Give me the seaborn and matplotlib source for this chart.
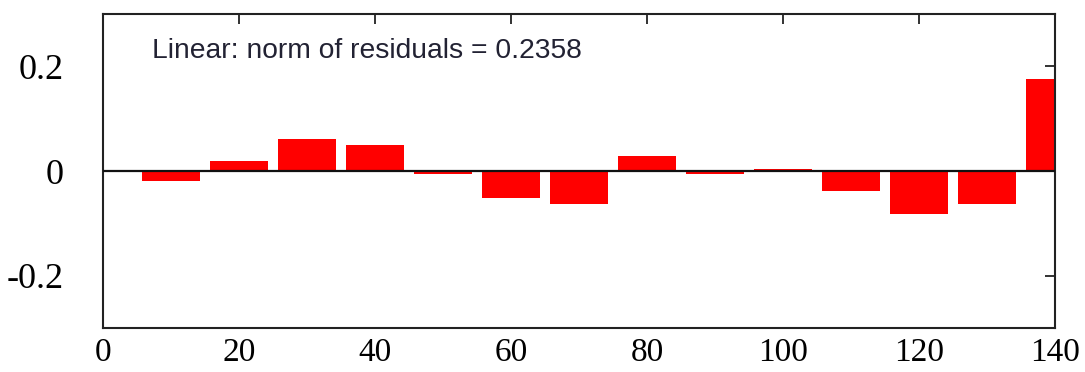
import matplotlib
matplotlib.use("Agg")
import matplotlib.pyplot as plt
import seaborn as sns
import pandas as pd

x_vals = [10, 20, 30, 40, 50, 60, 70, 80, 90, 100, 110, 120, 130, 140]
residuals = [-0.019, 0.020, 0.061, 0.049, -0.006, -0.051, -0.063, 0.029,
             -0.006, 0.004, -0.038, -0.082, -0.063, 0.176]
x_ticks = [0, 20, 40, 60, 80, 100, 120, 140]
y_ticks = [-0.2, 0, 0.2]
y_tick_labels = ["-0.2", "0", "0.2"]
annotation = "Linear: norm of residuals = 0.2358"

sns.set_style("white")
df = pd.DataFrame({"x": x_vals, "r": residuals})

fig = plt.figure(figsize=(10.85, 3.72), dpi=100)
ax = fig.add_axes([103/1085, 44/372, 952/1085, 314/372])

sns.barplot(data=df, x="x", y="r", native_scale=True, width=0.84,
            color="#ff0000", saturation=1, ax=ax, zorder=2)
for p in ax.patches:
    p.set_edgecolor("none")

ax.axhline(0, color="#111111", lw=1.6, zorder=3)
ax.set_xlim(0, 140)
ax.set_ylim(-0.3, 0.3)
ax.set_xticks(x_ticks)
ax.set_xticklabels([str(t) for t in x_ticks])
ax.set_yticks(y_ticks)
ax.set_yticklabels(y_tick_labels)
ax.set_xlabel("")
ax.set_ylabel("")

for s in ax.spines.values():
    s.set_visible(True)
    s.set_color("#222222")
    s.set_linewidth(1.5)

ax.tick_params(axis="both", direction="in", length=7, width=1.3, color="#222222",
               top=True, right=True, labelcolor="black")
ax.tick_params(axis="x", pad=7, labelsize=24)
ax.tick_params(axis="y", pad=28, labelsize=26)
for lab in ax.get_xticklabels() + ax.get_yticklabels():
    lab.set_family(["Liberation Serif", "DejaVu Serif"])

ax.text(0.0515, 0.86, annotation, transform=ax.transAxes, ha="left", va="baseline",
        fontsize=20.3, family=["Liberation Sans", "DejaVu Sans"], color="#222233", zorder=4)

fig.savefig("out.png", dpi=100, facecolor="white")
